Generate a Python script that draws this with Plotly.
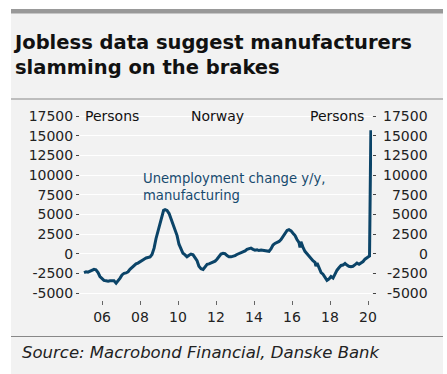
import plotly.graph_objects as go

# ---- data ----
years = [2005.05, 2005.16, 2005.26, 2005.37, 2005.47, 2005.58, 2005.68, 2005.79, 2005.89, 2006.0,
         2006.1, 2006.21, 2006.32, 2006.42, 2006.53, 2006.63, 2006.74, 2006.84, 2006.95, 2007.05,
         2007.16, 2007.26, 2007.37, 2007.47, 2007.58, 2007.68, 2007.79, 2007.89, 2008.0, 2008.1,
         2008.21, 2008.32, 2008.42, 2008.53, 2008.63, 2008.74, 2008.84, 2008.95, 2009.05, 2009.16,
         2009.24, 2009.32, 2009.42, 2009.53, 2009.63, 2009.74, 2009.84, 2009.95, 2010.05, 2010.16,
         2010.26, 2010.37, 2010.47, 2010.58, 2010.68, 2010.79, 2010.89, 2011.0, 2011.1, 2011.21,
         2011.32, 2011.42, 2011.53, 2011.63, 2011.74, 2011.84, 2011.95, 2012.05, 2012.16, 2012.26,
         2012.37, 2012.47, 2012.58, 2012.68, 2012.79, 2012.89, 2013.0, 2013.1, 2013.21, 2013.32,
         2013.42, 2013.53, 2013.63, 2013.74, 2013.84, 2013.95, 2014.05, 2014.16, 2014.26, 2014.37,
         2014.47, 2014.58, 2014.68, 2014.79, 2014.89, 2015.0, 2015.1, 2015.21, 2015.32, 2015.42,
         2015.53, 2015.63, 2015.74, 2015.84, 2015.95, 2016.05, 2016.16, 2016.26, 2016.37, 2016.42,
         2016.47, 2016.58, 2016.68, 2016.79, 2016.89, 2017.0, 2017.1, 2017.21, 2017.26, 2017.32,
         2017.42, 2017.53, 2017.63, 2017.74, 2017.84, 2017.95, 2018.05, 2018.16, 2018.26, 2018.37,
         2018.47, 2018.58, 2018.68, 2018.79, 2018.89, 2018.99, 2019.1, 2019.21, 2019.32, 2019.42,
         2019.53, 2019.63, 2019.74, 2019.84, 2020.0, 2020.08, 2020.15]
values = [-2400, -2300, -2350, -2200, -2100, -2000, -2050, -2400, -2900, -3200,
          -3400, -3450, -3500, -3450, -3400, -3450, -3750, -3500, -3100, -2700,
          -2500, -2450, -2300, -2000, -1750, -1600, -1300, -1200, -1000, -850,
          -700, -550, -450, -400, -100, 700, 1900, 3000, 3800, 4700,
          5500, 5600, 5500, 5100, 4400, 3600, 2900, 2300, 1200, 600,
          50, -150, -400, -200, -50, -150, -450, -900, -1600, -1900,
          -2000, -1650, -1350, -1300, -1200, -1150, -950, -700, -350, -50,
          50, 0, -250, -400, -400, -350, -250, -100, 0, 100,
          150, 350, 550, 650, 700, 550, 450, 500, 400, 450,
          400, 350, 350, 300, 600, 1100, 1300, 1400, 1550, 1800,
          2200, 2600, 2950, 3050, 2900, 2600, 2300, 1800, 1400, 800,
          1500, 800, 300, 0, -300, -600, -900, -1100, -1600, -1200,
          -1700, -2400, -2600, -3000, -3400, -3200, -2900, -3100, -2600, -2100,
          -1800, -1500, -1450, -1250, -1450, -1600, -1650, -1600, -1400, -1200,
          -1350, -1200, -1000, -700, -400, -300, 15700]

y_ticks = [-5000, -2500, 0, 2500, 5000, 7500, 10000, 12500, 15000, 17500]
y_labels = [str(v) for v in y_ticks]
x_ticks = [2006, 2008, 2010, 2012, 2014, 2016, 2018, 2020]
x_labels = ["06", "08", "10", "12", "14", "16", "18", "20"]

title = "Jobless data suggest manufacturers<br>slamming on the brakes"
series_label = "Unemployment change y/y,<br>manufacturing"
source = "Source: Macrobond Financial, Danske Bank"

# ---- layout geometry (pixels) ----
W, H = 447, 374
L, R, T, B = 80, 75, 104, 74
PW, PH = W - L - R, H - T - B

def px(x):
    return (x - L) / PW

def py(y):
    return (H - B - y) / PH

LINE = "#0b4468"
PANEL = "#f2f2f2"
FONT = "DejaVu Sans"

fig = go.Figure()
fig.add_trace(go.Scatter(x=years, y=values, mode="lines",
                         line=dict(color=LINE, width=3), hoverinfo="skip"))
fig.add_trace(go.Scatter(x=[years[0]], y=[values[0]], yaxis="y2", mode="lines",
                         line=dict(width=0), showlegend=False, hoverinfo="skip"))

yr = [-5889, 19025]
fig.update_layout(
    width=W, height=H, margin=dict(l=L, r=R, t=T, b=B),
    paper_bgcolor="white", plot_bgcolor=PANEL, showlegend=False,
    font=dict(family=FONT, size=14, color="#222"),
    xaxis=dict(range=[2004.84, 2020.21], tickvals=x_ticks, ticktext=x_labels,
               ticks="outside", ticklen=4, tickcolor="#666", showgrid=False,
               zeroline=False, showline=False, tickfont=dict(size=14, color="#222")),
    yaxis=dict(range=yr, tickvals=y_ticks, ticktext=y_labels, ticks="outside", ticklen=3,
               tickcolor="#444", showgrid=True, gridcolor="white", gridwidth=1,
               zeroline=False, showline=False, tickfont=dict(size=14, color="#222")),
    yaxis2=dict(range=yr, overlaying="y", side="right", tickvals=y_ticks,
                ticks="outside", ticklen=3, tickcolor="#444", showticklabels=False,
                showgrid=False, zeroline=False, showline=False),
)

shapes = [
    dict(type="rect", xref="paper", yref="paper", x0=px(11), x1=px(443), y0=py(374), y1=py(9),
         fillcolor=PANEL, line=dict(width=0), layer="below"),
    dict(type="rect", xref="paper", yref="paper", x0=px(11), x1=px(443), y0=py(13.5), y1=py(9),
         fillcolor="#999999", line=dict(width=0), layer="below"),
    dict(type="line", xref="paper", yref="paper", x0=px(11), x1=px(443), y0=py(99), y1=py(99),
         line=dict(color="#888", width=1)),
    dict(type="line", xref="paper", yref="paper", x0=px(11), x1=px(443), y0=py(336.5), y1=py(336.5),
         line=dict(color="#888", width=1)),
]
fig.update_layout(shapes=shapes)

ann = [
    dict(text="<b>" + title.replace("<br>", "</b><br><b>") + "</b>", x=px(11), y=py(29),
         xref="paper", yref="paper", xanchor="left", yanchor="top",
         align="left", showarrow=False, font=dict(family=FONT, size=19.5, color="#111")),
    dict(text="<i>" + source + "</i>", x=px(20), y=py(352), xref="paper", yref="paper",
         xanchor="left", yanchor="middle",
         showarrow=False, font=dict(family=FONT, size=16.5, color="#222")),
    dict(text="Persons", x=px(83), y=py(116), xref="paper", yref="paper", xanchor="left",
         yanchor="middle", showarrow=False, font=dict(size=14, color="#111")),
    dict(text="Norway", x=px(217), y=py(116), xref="paper", yref="paper", xanchor="center",
         yanchor="middle", showarrow=False, font=dict(size=14, color="#111")),
    dict(text="Persons", x=px(366), y=py(116), xref="paper", yref="paper", xanchor="right",
         yanchor="middle", showarrow=False, font=dict(size=14, color="#111")),
    dict(text=series_label, x=px(141), y=py(187), xref="paper", yref="paper", xanchor="left",
         yanchor="middle", align="left", showarrow=False,
         font=dict(size=13.2, color="#174a6e")),
]
for v, lab in zip(y_ticks, y_labels):
    ann.append(dict(text=lab, x=px(430), y=v, xref="paper", yref="y", xanchor="right",
                    yanchor="middle", showarrow=False, font=dict(size=14, color="#222")))
fig.update_layout(annotations=ann)

fig.write_html("out.html", config={"displayModeBar": False},
               post_script="document.body.style.margin='0';")
